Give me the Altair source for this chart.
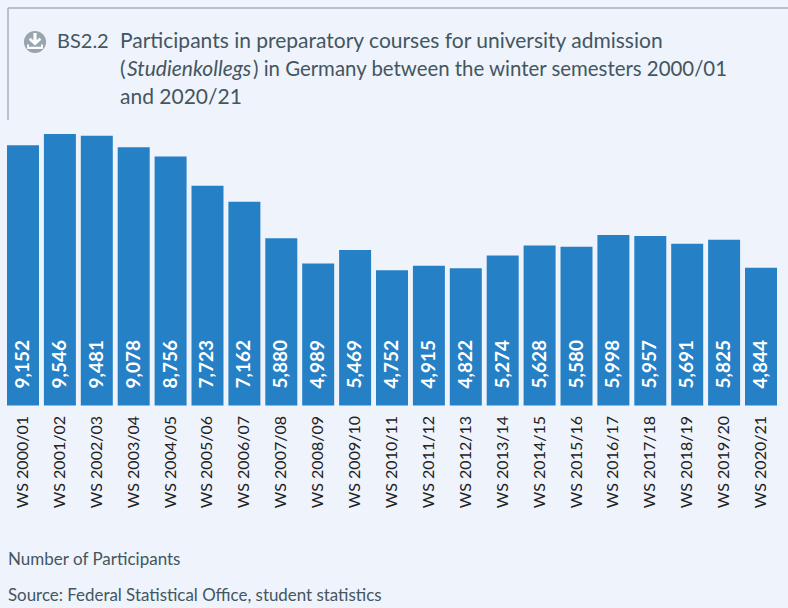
import altair as alt
import pandas as pd

seasons = ["WS 2000/01","WS 2001/02","WS 2002/03","WS 2003/04","WS 2004/05","WS 2005/06","WS 2006/07",
           "WS 2007/08","WS 2008/09","WS 2009/10","WS 2010/11","WS 2011/12","WS 2012/13","WS 2013/14",
           "WS 2014/15","WS 2015/16","WS 2016/17","WS 2017/18","WS 2018/19","WS 2019/20","WS 2020/21"]
participants = [9152,9546,9481,9078,8756,7723,7162,5880,4989,5469,4752,4915,4822,5274,5628,5580,5998,5957,5691,5825,4844]

BG = "#eff3fc"; BAR = "#2680c6"; INK = "#44565f"; GREY = "#a5b3bc"; FONT = "Lato"
H = 271.5
OX, OY = 7, 134
df = pd.DataFrame({"season": seasons, "n": participants})

x = alt.X("season:N", sort=seasons, title=None,
          scale=alt.Scale(paddingInner=0.133, paddingOuter=0),
          axis=alt.Axis(labelAngle=270, labelAlign="right", labelBaseline="middle", domain=False, ticks=False,
                        labelPadding=10, labelFont=FONT, labelFontSize=16, labelColor="#222222", labelOverlap=False))
y = alt.Y("n:Q", title=None, scale=alt.Scale(domain=[0, 9546], nice=False), axis=None)
base = alt.Chart(df).encode(x=x)
bars = base.mark_bar(color=BAR).encode(y=y)
vals = base.mark_text(angle=270, align="left", baseline="middle", color="white", font=FONT, fontSize=19, fontWeight="bold").encode(
    y=alt.value(H - 17), text=alt.Text("n:Q", format=","))

def label(txt, px, py, size=20, color=INK, style="normal"):
    return alt.Chart(pd.DataFrame({"t": [txt]})).mark_text(
        align="left", baseline="alphabetic", font=FONT, fontSize=size, color=color, fontStyle=style
    ).encode(x=alt.value(px - OX), y=alt.value(py - OY), text="t:N")

def rule(x1, x2, y1, y2):
    return alt.Chart(pd.DataFrame({"a": [0]})).mark_rule(color=GREY, strokeWidth=1.5).encode(
        x=alt.value(x1 - OX), x2=alt.value(x2 - OX), y=alt.value(y1 - OY), y2=alt.value(y2 - OY))

icon_c = alt.Chart(pd.DataFrame({"a": [0]})).mark_circle(color="#96a5ae", size=490, opacity=1).encode(
    x=alt.value(35 - OX), y=alt.value(42 - OY))
arrow = "M-0.1,-0.5 L0.1,-0.5 L0.1,-0.05 L0.28,-0.2 L0.4,-0.08 L0,0.28 L-0.4,-0.08 L-0.28,-0.2 L-0.1,-0.05 Z M-0.5,0.22 L-0.38,0.22 L-0.38,0.36 L0.38,0.36 L0.38,0.22 L0.5,0.22 L0.5,0.5 L-0.5,0.5 Z"
icon_a = alt.Chart(pd.DataFrame({"a": [0]})).mark_point(shape=arrow, filled=True, color="white", size=1000, opacity=1, strokeWidth=0).encode(
    x=alt.value(35 - OX), y=alt.value(41 - OY))

texts = [
    label("BS2.2", 57, 48),
    label("Participants in preparatory courses for university admission", 120, 48, size=21),
    label("(", 120, 76, size=21),
    label("Studienkollegs", 127, 76, size=21, style="italic"),
    label(") in Germany between the winter semesters 2000/01", 253, 76, size=20.4),
    label("and 2020/21", 120, 104, size=21),
    label("Number of Participants", 8, 565, size=17),
    label("Source: Federal Statistical Office, student statistics", 8, 601, size=16.9),
]

chart = alt.layer(bars, vals, rule(8, 788, 8, 8), rule(8, 8, 8, 120), icon_c, icon_a, *texts).properties(
    width=770, height=H, background=BG,
    padding={"left": OX, "right": 788 - OX - 770, "top": OY, "bottom": 608 - OY - H},
    autosize=alt.AutoSizeParams(type="none"),
).configure_view(stroke=None)

chart.save("out.html", embed_options={"renderer": "svg", "actions": False,
                                      "defaultStyle": "body{margin:0;overflow:hidden;background:#eff3fc}"})
